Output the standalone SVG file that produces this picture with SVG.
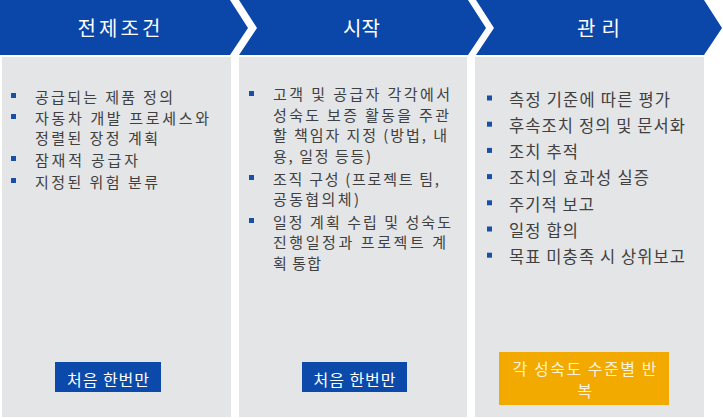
<svg xmlns="http://www.w3.org/2000/svg" width="723" height="418" viewBox="0 0 723 418">
  <style>
    .hdr { fill: #0a47a8; }
    .panel { fill: #e4e5e7; }
    .htxt { font-family: "Noto Sans CJK KR", "Noto Sans", sans-serif; font-size: 20px; fill: #ffffff; text-anchor: middle; }
    .body { font-family: "Noto Sans CJK KR", "Noto Sans", sans-serif; font-size: 15px; fill: #404040; }
    .body3 { font-family: "Noto Sans CJK KR", "Noto Sans", sans-serif; font-size: 16.5px; fill: #404040; }
    .bul { fill: #1a4fa8; }
    .btn { fill: #0b4aab; }
    .btntxt { font-family: "Noto Sans CJK KR", "Noto Sans", sans-serif; font-size: 16px; fill: #ffffff; text-anchor: middle; }
    .rep { fill: #f2a900; }
    .reptxt { font-family: "Noto Sans CJK KR", "Noto Sans", sans-serif; font-size: 16px; fill: #fff3d6; text-anchor: middle; }
  </style>
  <rect width="723" height="418" fill="#ffffff"/>

  <g id="col-prerequisites">
    <polygon class="hdr" points="0,0 230,0 248,28 230,55 0,55"/>
    <text class="htxt" x="119" y="35.5" textLength="83" lengthAdjust="spacing">전제조건</text>
    <rect class="panel" x="2" y="57" width="229" height="360"/>
    <rect class="bul" x="11" y="93" width="5" height="5"/>
    <text class="body" x="35" y="102.7" textLength="138" lengthAdjust="spacing">공급되는 제품 정의</text>
    <rect class="bul" x="11" y="114" width="5" height="5"/>
    <text class="body" x="35" y="123.7" textLength="174" lengthAdjust="spacing">자동차 개발 프로세스와</text>
    <text class="body" x="35" y="143.7" textLength="123" lengthAdjust="spacing">정렬된 장정 계획</text>
    <rect class="bul" x="11" y="156" width="5" height="5"/>
    <text class="body" x="35" y="165.7" textLength="103" lengthAdjust="spacing">잠재적 공급자</text>
    <rect class="bul" x="11" y="178" width="5" height="5"/>
    <text class="body" x="35" y="187.7" textLength="123" lengthAdjust="spacing">지정된 위험 분류</text>
    <rect class="btn" x="55" y="362" width="106" height="30"/>
    <text class="btntxt" x="108" y="385.5" textLength="82" lengthAdjust="spacing">처음 한번만</text>
  </g>

  <g id="col-start">
    <polygon class="hdr" points="239,0 468,0 486,28 468,55 239,55 257,28"/>
    <text class="htxt" x="361.5" y="35.5" textLength="37" lengthAdjust="spacing">시작</text>
    <rect class="panel" x="239" y="57" width="228" height="360"/>
    <rect class="bul" x="249" y="91" width="5" height="5"/>
    <text class="body" x="273" y="100.2" textLength="177" lengthAdjust="spacing">고객 및 공급자 각각에서</text>
    <text class="body" x="273" y="120.7" textLength="176" lengthAdjust="spacing">성숙도 보증 활동을 주관</text>
    <text class="body" x="273" y="141.2" textLength="174" lengthAdjust="spacing">할 책임자 지정 (방법, 내</text>
    <text class="body" x="273" y="161.7" textLength="98" lengthAdjust="spacing">용, 일정 등등)</text>
    <rect class="bul" x="249" y="175" width="5" height="5"/>
    <text class="body" x="273" y="184.7" textLength="166" lengthAdjust="spacing">조직 구성 (프로젝트 팀,</text>
    <text class="body" x="273" y="205.2" textLength="86" lengthAdjust="spacing">공동협의체)</text>
    <rect class="bul" x="249" y="218" width="5" height="5"/>
    <text class="body" x="273" y="227.7" textLength="178" lengthAdjust="spacing">일정 계획 수립 및 성숙도</text>
    <text class="body" x="273" y="248.2" textLength="173" lengthAdjust="spacing">진행일정과 프로젝트 계</text>
    <text class="body" x="273" y="268.7" textLength="48" lengthAdjust="spacing">획 통합</text>
    <rect class="btn" x="302" y="362" width="105" height="30"/>
    <text class="btntxt" x="354.5" y="385.5" textLength="82" lengthAdjust="spacing">처음 한번만</text>
  </g>

  <g id="col-management">
    <polygon class="hdr" points="476,0 704,0 722,28 704,55 476,55 494,28"/>
    <text class="htxt" x="598.5" y="35.5" textLength="43" lengthAdjust="spacing">관리</text>
    <rect class="panel" x="475" y="57" width="229" height="360"/>
    <rect class="bul" x="487" y="95.5" width="5" height="5"/>
    <text class="body3" x="509" y="105.8" textLength="161" lengthAdjust="spacing">측정 기준에 따른 평가</text>
    <rect class="bul" x="487" y="121.7" width="5" height="5"/>
    <text class="body3" x="509" y="132" textLength="176" lengthAdjust="spacing">후속조치 정의 및 문서화</text>
    <rect class="bul" x="487" y="147.9" width="5" height="5"/>
    <text class="body3" x="509" y="158.2" textLength="69" lengthAdjust="spacing">조치 추적</text>
    <rect class="bul" x="487" y="174.1" width="5" height="5"/>
    <text class="body3" x="509" y="184.4" textLength="140" lengthAdjust="spacing">조치의 효과성 실증</text>
    <rect class="bul" x="487" y="200.3" width="5" height="5"/>
    <text class="body3" x="509" y="210.6" textLength="85" lengthAdjust="spacing">주기적 보고</text>
    <rect class="bul" x="487" y="226.5" width="5" height="5"/>
    <text class="body3" x="509" y="236.8" textLength="69" lengthAdjust="spacing">일정 합의</text>
    <rect class="bul" x="487" y="252.7" width="5" height="5"/>
    <text class="body3" x="509" y="263" textLength="176" lengthAdjust="spacing">목표 미충족 시 상위보고</text>
    <rect class="rep" x="499" y="352" width="170" height="53"/>
    <text class="reptxt" x="584.5" y="374.8" textLength="144" lengthAdjust="spacing">각 성숙도 수준별 반</text>
    <text class="reptxt" x="584.5" y="396.8">복</text>
  </g>
</svg>
